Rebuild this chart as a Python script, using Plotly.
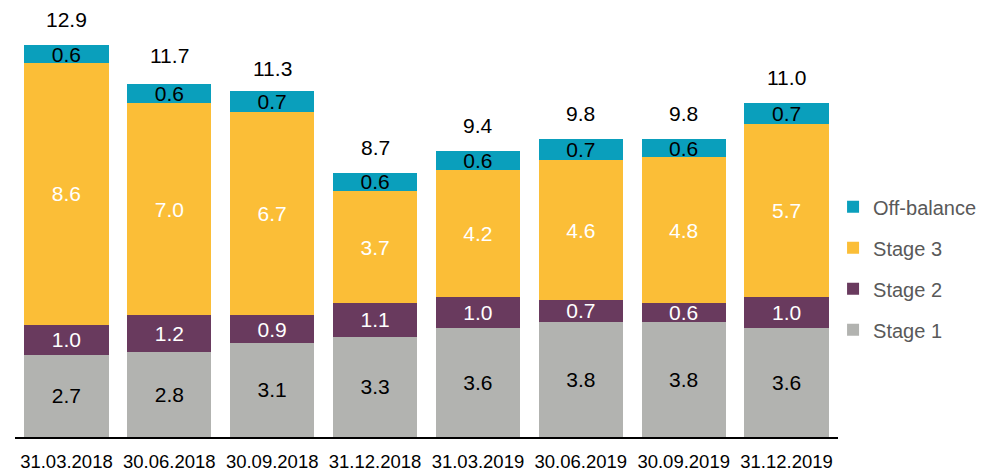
import plotly.graph_objects as go

categories = ["31.03.2018", "30.06.2018", "30.09.2018", "31.12.2018",
              "31.03.2019", "30.06.2019", "30.09.2019", "31.12.2019"]
stage1 = [2.7, 2.8, 3.1, 3.3, 3.6, 3.8, 3.8, 3.6]
stage2 = [1.0, 1.2, 0.9, 1.1, 1.0, 0.7, 0.6, 1.0]
stage3 = [8.6, 7.0, 6.7, 3.7, 4.2, 4.6, 4.8, 5.7]
off_balance = [0.6, 0.6, 0.7, 0.6, 0.6, 0.7, 0.6, 0.7]
totals = [12.9, 11.7, 11.3, 8.7, 9.4, 9.8, 9.8, 11.0]

FONT = "Liberation Sans, Arial, sans-serif"
series = [
    ("Stage 1", stage1, "#B2B3B0", "black", 4),
    ("Stage 2", stage2, "#693A5E", "white", 3),
    ("Stage 3", stage3, "#FBBE37", "white", 2),
    ("Off-balance", off_balance, "#0A9FBC", "black", 1),
]

fig = go.Figure()
for name, vals, col, tcol, rank in series:
    fig.add_trace(go.Bar(
        x=categories, y=vals, name=name, legendgroup=name, legendrank=rank,
        marker=dict(color=col, line=dict(width=0)),
        text=[f"{v:.1f}" for v in vals], textposition="inside",
        insidetextanchor="middle", textangle=0, constraintext="none",
        textfont=dict(family=FONT, size=21, color=tcol),
    ))

for c, t in zip(categories, totals):
    fig.add_annotation(x=c, y=t, text=f"{t:.1f}", showarrow=False,
                       yanchor="bottom", yshift=12,
                       font=dict(family=FONT, size=21, color="black"))

fig.update_layout(
    barmode="stack", bargap=0.18,
    width=977, height=463,
    margin=dict(l=7, r=147, t=2, b=34, autoexpand=False),
    plot_bgcolor="white", paper_bgcolor="white",
    font=dict(family=FONT, size=18.5, color="black"),
    legend=dict(traceorder="grouped", x=0.994, xanchor="left",
                y=0.395, yanchor="middle", tracegroupgap=12,
                itemwidth=30,
                font=dict(family=FONT, size=20, color="#595959")),
    xaxis=dict(showline=True, linecolor="black", linewidth=2,
               ticks="", ticklabelstandoff=7,
               tickfont=dict(family=FONT, size=18.5, color="black")),
    yaxis=dict(visible=False, range=[0, 14.05], showgrid=False),
)
fig.write_html("out.html")
